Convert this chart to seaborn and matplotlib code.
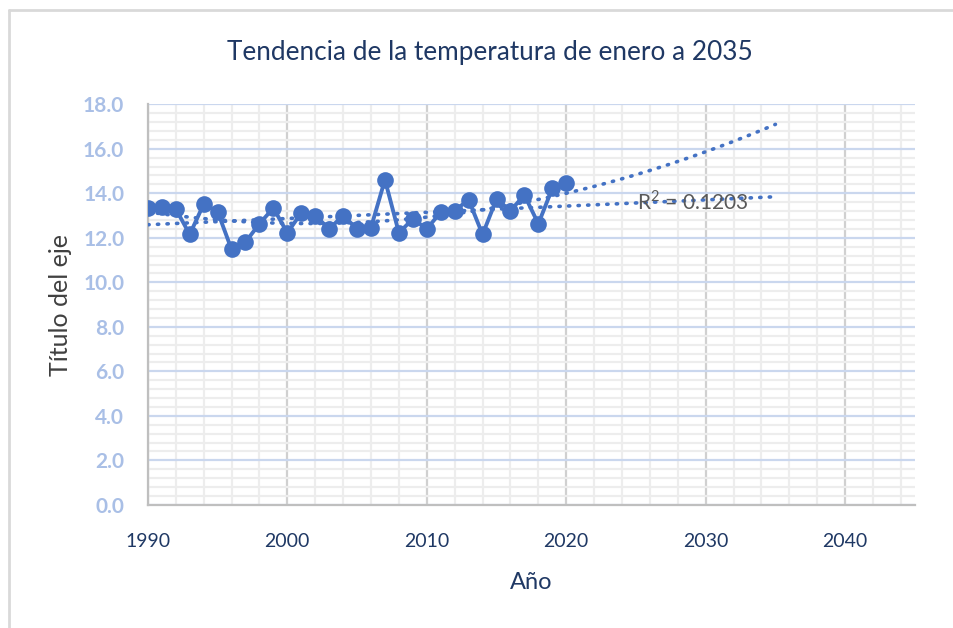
import numpy as np
import pandas as pd
import seaborn as sns
import matplotlib.pyplot as plt
from matplotlib.lines import Line2D
from matplotlib.ticker import MultipleLocator

# datos
years = list(range(1990, 2021))
temps = [13.34, 13.37, 13.30, 12.15, 13.51, 13.18, 11.48, 11.81, 12.63, 13.34,
         12.22, 13.12, 13.00, 12.40, 13.00, 12.40, 12.46, 14.61, 12.22, 12.85,
         12.40, 13.15, 13.22, 13.71, 12.15, 13.74, 13.22, 13.92, 12.63, 14.22,
         14.46]
x_ticks = [1990, 2000, 2010, 2020, 2030, 2040]
y_ticks = [0, 2, 4, 6, 8, 10, 12, 14, 16, 18]
r2_label = "R$^2$ = 0.1203"

df = pd.DataFrame({"Año": years, "Temp": temps})

sns.set_style("white")
plt.rcParams['font.family'] = ['Lato', 'DejaVu Sans']
plt.rcParams['mathtext.fontset'] = 'custom'
plt.rcParams['mathtext.rm'] = 'Lato'

blue = "#4472C4"
navy = "#1F3864"

fig = plt.figure(figsize=(9.54, 6.28), dpi=100)
ax = fig.add_axes([0.155, 0.196, 0.804, 0.638])

# lineas de tendencia (lineal y polinomica) hasta 2035
xt = np.linspace(1990, 2035, 200)
lin = np.polyfit(years, temps, 1)
pol = np.polyfit(np.array(years) - 2005, temps, 2)
trend = pd.DataFrame({"x": xt, "lin": np.polyval(lin, xt), "pol": np.polyval(pol, xt - 2005)})
for col in ["lin", "pol"]:
    sns.lineplot(data=trend, x="x", y=col, ax=ax, color=blue, linewidth=2.6,
                 linestyle=(0, (0.35, 2.3)), dash_capstyle="round", zorder=3)

sns.lineplot(data=df, x="Año", y="Temp", ax=ax, color=blue, linewidth=2.8,
             marker="o", markersize=12, markeredgewidth=0, zorder=4)

ax.text(2025.1, 13.62, r2_label, color="#595959", fontsize=15, va="center", zorder=5)

ax.set_xlim(1990, 2045)
ax.set_ylim(0, 18)
ax.set_xticks(x_ticks)
ax.set_yticks(y_ticks)
ax.set_yticklabels([f"{v:.1f}" for v in y_ticks])
ax.xaxis.set_minor_locator(MultipleLocator(2))
ax.yaxis.set_minor_locator(MultipleLocator(0.4))

ax.grid(which="minor", color="#EDEDED", linewidth=1.6, zorder=0)
ax.grid(which="major", axis="x", color="#D0D0D0", linewidth=1.6, zorder=1)
ax.grid(which="major", axis="y", color="#CAD7EE", linewidth=1.6, zorder=1)
ax.set_axisbelow(True)

for s in ["top", "right"]:
    ax.spines[s].set_visible(False)
ax.spines["left"].set_color("#BFBFBF")
ax.spines["bottom"].set_color("#BFBFBF")
ax.spines["left"].set_linewidth(1.6)
ax.spines["bottom"].set_linewidth(1.6)

ax.tick_params(which="both", length=0)
ax.tick_params(axis="x", colors=navy, labelsize=14, pad=20)
ax.tick_params(axis="y", colors="#A9BFE6", labelsize=15, pad=17)
for lab in ax.get_yticklabels():
    lab.set_fontweight("bold")

ax.set_xlabel("Año", color=navy, fontsize=17, labelpad=16)
ax.set_ylabel("Título del eje", color="#404040", fontsize=18, labelpad=8)
fig.text(0.513, 0.917, "Tendencia de la temperatura de enero a 2035",
         ha="center", va="center", color=navy, fontsize=18.8)

# borde del area del grafico
fig.add_artist(Line2D([0.0095, 1.0], [0.984, 0.984], color="#D9D9D9", linewidth=2))
fig.add_artist(Line2D([0.0095, 0.0095], [0.0, 0.984], color="#D9D9D9", linewidth=2))

fig.savefig("out.png", dpi=100)
